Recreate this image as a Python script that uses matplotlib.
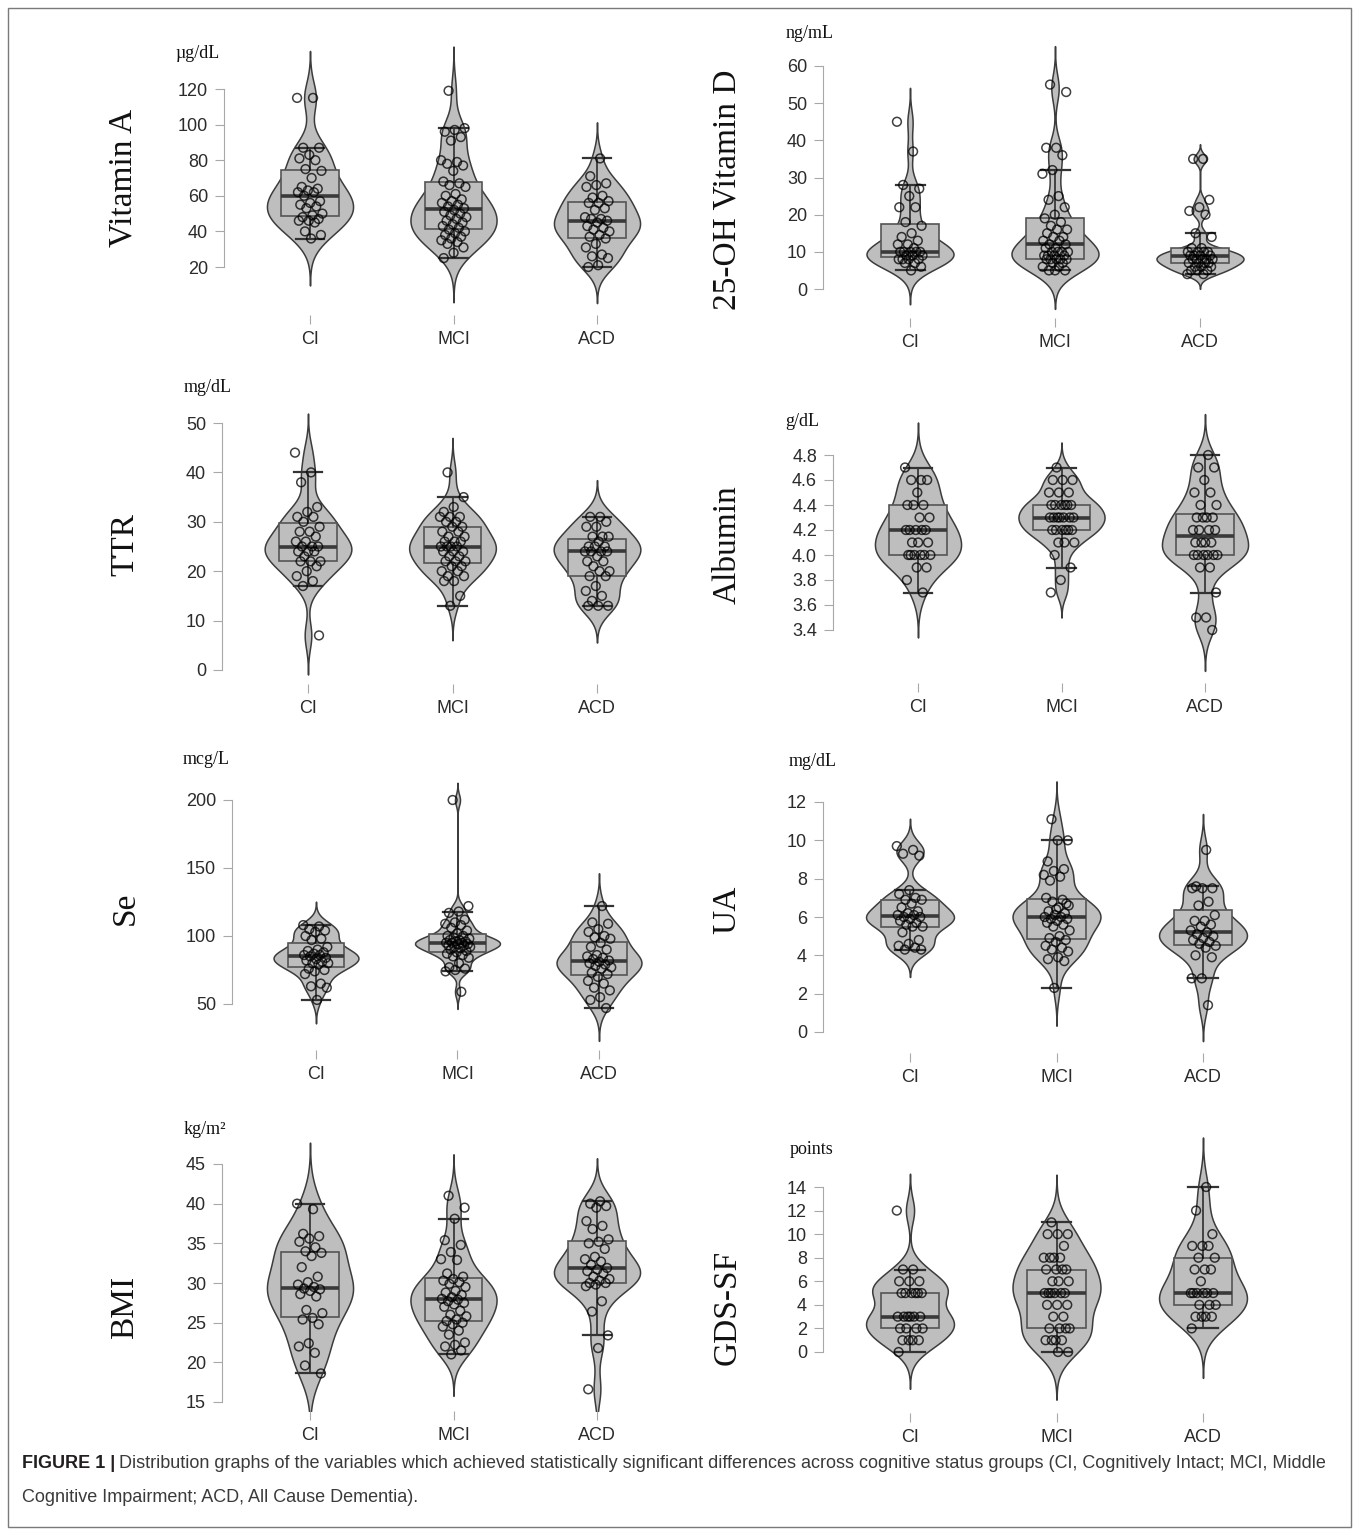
import numpy as np
import matplotlib.pyplot as plt
from matplotlib.patches import Rectangle

plt.rcParams['font.family'] = ['Liberation Sans', 'DejaVu Sans']

W, H = 1357, 1533
groups = ['CI', 'MCI', 'ACD']

# values (one list per group)
vita_ci = [115, 115, 87, 87, 83, 81, 80, 75, 74, 70, 65, 64, 63, 62, 62, 60, 57, 56, 55, 54, 53, 50, 49, 48, 47, 46, 46, 45, 40, 38, 36]
vita_mci = [119, 98, 97, 96, 93, 91, 80, 79, 78, 77, 74, 68, 67, 66, 65, 61, 60, 58, 57, 56, 55, 54, 53, 52, 51, 50,
            49, 48, 47, 46, 45, 44, 43, 42, 41, 40, 39, 38, 37, 36, 35, 34, 33, 31, 28, 25]
vita_acd = [81, 71, 67, 66, 65, 60, 59, 57, 56, 56, 53, 52, 48, 47, 47, 46, 45, 43, 42, 41, 40, 38, 37, 36, 33, 31, 27, 26, 25, 21, 20]

vitd_ci = [45, 37, 28, 27, 25, 22, 22, 18, 17, 15, 14, 13, 12, 12, 11, 10, 10, 10, 10, 10, 9, 9, 9, 8, 8, 8, 8, 7, 7, 6, 5]
vitd_mci = [55, 53, 38, 38, 36, 32, 31, 25, 24, 22, 20, 19, 18, 17, 16, 16, 15, 14, 14, 13, 13, 12, 12, 11, 11,
            10, 10, 10, 10, 9, 9, 9, 9, 8, 8, 8, 8, 8, 7, 7, 6, 6, 5, 5, 5]
vitd_acd = [35, 35, 24, 22, 21, 20, 15, 14, 11, 11, 10, 10, 10, 10, 9, 9, 9, 9, 8, 8, 8, 8, 8, 7, 7, 7, 7, 6, 6, 6, 5, 5, 5, 4, 4]

ttr_ci = [44, 40, 38, 33, 32, 31, 31, 30, 29, 28, 28, 27, 26, 26, 25, 25, 25, 24, 24, 24, 23, 22, 22, 22, 21, 20, 19, 18, 17, 7]
ttr_mci = [40, 35, 33, 32, 31, 31, 31, 30, 30, 29, 29, 28, 28, 27, 27, 26, 26, 26, 25, 25, 25, 25, 24, 24, 24, 23, 23,
           22, 22, 22, 21, 21, 20, 20, 19, 19, 18, 18, 15, 13]
ttr_acd = [31, 31, 30, 29, 29, 27, 27, 27, 26, 25, 25, 25, 24, 24, 24, 24, 23, 22, 22, 21, 20, 20, 19, 19, 17, 16, 15, 14, 13, 13, 13]

alb_ci = [4.7, 4.6, 4.6, 4.6, 4.5, 4.4, 4.4, 4.4, 4.3, 4.3, 4.2, 4.2, 4.2, 4.2, 4.2, 4.1, 4.1, 4.1,
          4.0, 4.0, 4.0, 4.0, 4.0, 4.0, 3.9, 3.9, 3.8, 3.7]
alb_mci = [4.7, 4.6, 4.6, 4.6, 4.5, 4.5, 4.5, 4.4, 4.4, 4.4, 4.4, 4.4, 4.4, 4.3, 4.3, 4.3, 4.3, 4.3, 4.3, 4.3,
           4.2, 4.2, 4.2, 4.2, 4.2, 4.2, 4.1, 4.1, 4.1, 4.0, 3.9, 3.8, 3.7]
alb_acd = [4.8, 4.7, 4.7, 4.6, 4.5, 4.5, 4.4, 4.4, 4.3, 4.3, 4.3, 4.3, 4.2, 4.2, 4.2, 4.2, 4.1, 4.1, 4.1, 4.1,
           4.0, 4.0, 4.0, 4.0, 4.0, 4.0, 3.9, 3.9, 3.7, 3.5, 3.5, 3.4]

se_ci = [108, 107, 105, 104, 103, 100, 98, 97, 92, 90, 89, 88, 87, 86, 86, 85, 84, 83, 82, 81, 80, 80, 79, 76, 75, 74, 72, 65, 63, 62, 53]
se_mci = [200, 122, 118, 117, 112, 110, 109, 108, 106, 104, 102, 100, 100, 99, 98, 97, 97, 96, 96, 95, 95, 95, 94, 94,
          93, 93, 92, 92, 91, 90, 89, 88, 87, 86, 85, 84, 80, 77, 76, 75, 74, 59]
se_acd = [122, 110, 109, 105, 103, 100, 99, 98, 95, 92, 90, 86, 85, 84, 83, 82, 81, 80, 79, 78, 77, 76, 73, 72, 70, 67, 65, 62, 60, 55, 53, 47]

ua_ci = [9.7, 9.5, 9.3, 9.2, 7.4, 7.2, 7.0, 6.9, 6.9, 6.7, 6.5, 6.3, 6.2, 6.1, 6.1, 6.0, 6.0, 5.9, 5.8, 5.7, 5.6,
         5.5, 5.5, 5.2, 4.8, 4.6, 4.5, 4.4, 4.3, 4.3]
ua_mci = [11.1, 10.0, 10.0, 8.9, 8.5, 8.4, 8.2, 8.1, 7.9, 6.7, 6.4, 7.0, 6.9, 6.8, 6.6, 6.5, 6.3, 6.2, 6.1, 6.0, 6.0,
          5.9, 5.9, 5.8, 5.7, 5.6, 5.5, 5.3, 5.0, 4.9, 4.8, 4.7, 4.5, 4.4, 4.3, 4.2, 3.9, 3.8, 3.7, 2.3]
ua_acd = [9.5, 7.6, 7.5, 7.5, 7.5, 6.8, 6.6, 6.1, 5.8, 5.8, 5.6, 5.5, 5.3, 5.2, 5.1, 5.0, 4.9, 4.8, 4.7, 4.6, 4.5,
          4.4, 4.0, 3.9, 2.8, 2.8, 1.4]

bmi_ci = [40.0, 39.3, 36.2, 35.9, 35.6, 35.2, 34.5, 34.0, 33.8, 33.4, 32.0, 30.8, 30.1, 29.8, 29.5, 29.3, 29.2, 29.0,
          28.6, 28.3, 26.6, 26.2, 25.6, 25.4, 24.8, 22.4, 22.0, 21.2, 19.6, 18.6]
bmi_mci = [41.0, 39.5, 38.1, 35.4, 34.8, 33.9, 33.0, 32.9, 31.2, 30.8, 30.5, 30.3, 30.1, 29.9, 29.5, 29.0, 28.8, 28.5,
           28.2, 28.0, 27.9, 27.7, 27.5, 27.3, 27.0, 26.5, 26.0, 25.8, 25.4, 25.2, 25.0, 24.8, 24.5, 24.0, 23.5, 22.5,
           22.2, 22.0, 21.5, 21.0]
bmi_acd = [40.3, 40.0, 39.7, 39.5, 37.8, 37.2, 36.8, 35.5, 35.2, 35.0, 34.3, 33.3, 33.0, 32.7, 32.3, 31.9, 31.7, 31.5,
           31.2, 30.8, 30.5, 30.3, 30.0, 30.0, 29.8, 29.6, 27.7, 26.4, 23.4, 21.8, 16.6]

gds_ci = [12, 7, 7, 6, 6, 6, 5, 5, 5, 5, 5, 5, 3, 3, 3, 3, 3, 3, 2, 2, 2, 2, 1, 1, 1, 1, 0]
gds_mci = [11, 10, 10, 10, 9, 8, 8, 8, 8, 7, 7, 7, 7, 6, 6, 6, 5, 5, 5, 5, 5, 5, 4, 4, 4, 3, 3, 2, 2, 2, 2, 1, 1, 1, 1, 0, 0]
gds_acd = [14, 12, 10, 9, 9, 9, 8, 8, 7, 7, 7, 6, 5, 5, 5, 5, 5, 5, 4, 4, 4, 3, 3, 3, 3, 2]

vita_ticks = [20, 40, 60, 80, 100, 120]
vitd_ticks = [0, 10, 20, 30, 40, 50, 60]
ttr_ticks = [0, 10, 20, 30, 40, 50]
alb_ticks = [3.4, 3.6, 3.8, 4.0, 4.2, 4.4, 4.6, 4.8]
se_ticks = [50, 100, 150, 200]
ua_ticks = [0, 2, 4, 6, 8, 10, 12]
bmi_ticks = [15, 20, 25, 30, 35, 40, 45]
gds_ticks = [0, 2, 4, 6, 8, 10, 12, 14]

# layout in pixels of the reference
panels = [
    dict(data=[vita_ci, vita_mci, vita_acd], name='Vitamin A', unit='µg/dL', ticks=vita_ticks, fmt='{:g}',
         spine=224, gx=(310, 597), hi=(120, 89), lo=(20, 267), bottom=315, top=25, right=680,
         unit_xy=(198, 53), lab_xy=(123, 178)),
    dict(data=[vitd_ci, vitd_mci, vitd_acd], name='25-OH Vitamin D', unit='ng/mL', ticks=vitd_ticks, fmt='{:g}',
         spine=823, gx=(910, 1200), hi=(60, 66), lo=(0, 289), bottom=318, top=12, right=1300,
         unit_xy=(810, 33), lab_xy=(727, 190)),
    dict(data=[ttr_ci, ttr_mci, ttr_acd], name='TTR', unit='mg/dL', ticks=ttr_ticks, fmt='{:g}',
         spine=222, gx=(308, 597), hi=(50, 423), lo=(0, 670), bottom=684, top=395, right=680,
         unit_xy=(208, 387), lab_xy=(125, 545)),
    dict(data=[alb_ci, alb_mci, alb_acd], name='Albumin', unit='g/dL', ticks=alb_ticks, fmt='{:.1f}',
         spine=833, gx=(918, 1205), hi=(4.8, 455), lo=(3.4, 630), bottom=683, top=400, right=1300,
         unit_xy=(802, 421), lab_xy=(727, 545)),
    dict(data=[se_ci, se_mci, se_acd], name='Se', unit='mcg/L', ticks=se_ticks, fmt='{:g}',
         spine=232, gx=(316, 599), hi=(200, 800), lo=(50, 1004), bottom=1050, top=770, right=680,
         unit_xy=(206, 760), lab_xy=(125, 908)),
    dict(data=[ua_ci, ua_mci, ua_acd], name='UA', unit='mg/dL', ticks=ua_ticks, fmt='{:g}',
         spine=823, gx=(910, 1203), hi=(12, 802), lo=(0, 1032), bottom=1053, top=770, right=1300,
         unit_xy=(813, 761), lab_xy=(727, 910)),
    dict(data=[bmi_ci, bmi_mci, bmi_acd], name='BMI', unit='kg/m²', ticks=bmi_ticks, fmt='{:g}',
         spine=222, gx=(310, 597), hi=(45, 1164), lo=(15, 1402), bottom=1411, top=1135, right=680,
         unit_xy=(205, 1130), lab_xy=(125, 1307)),
    dict(data=[gds_ci, gds_mci, gds_acd], name='GDS-SF', unit='points', ticks=gds_ticks, fmt='{:g}',
         spine=823, gx=(910, 1203), hi=(14, 1187), lo=(0, 1352), bottom=1413, top=1130, right=1300,
         unit_xy=(812, 1150), lab_xy=(727, 1307)),
]

FILL = '#bebebe'
DARK = '#3c3c3c'
AXC = '#a8a8a8'


def kde_stats(vals):
    x = np.asarray(vals, float)
    n = len(x)
    q75, q25 = np.percentile(x, [75, 25])
    bw = 0.9 * min(x.std(ddof=1), (q75 - q25) / 1.34) * n ** -0.2
    grid = np.linspace(x.min() - 3 * bw, x.max() + 3 * bw, 512)
    dens = np.exp(-0.5 * ((grid[:, None] - x[None, :]) / bw) ** 2).sum(1) / (n * bw * np.sqrt(2 * np.pi))
    return dict(coords=grid, vals=dens, mean=x.mean(), median=np.median(x), min=grid[0], max=grid[-1])


fig = plt.figure(figsize=(W / 100, H / 100), dpi=100)

for p in panels:
    left, right, top, bottom = p['spine'], p['right'], p['top'], p['bottom']
    ax = fig.add_axes([left / W, 1 - bottom / H, (right - left) / W, (bottom - top) / H])
    ax.patch.set_visible(False)

    g0, g2 = p['gx']
    sx = (g2 - g0) / 2.0
    ax.set_xlim(1 + (left - g0) / sx, 3 + (right - g2) / sx)
    (vhi, yhi), (vlo, ylo) = p['hi'], p['lo']
    sy = (ylo - yhi) / (vhi - vlo)
    ax.set_ylim(vlo - (bottom - ylo) / sy, vhi + (yhi - top) / sy)

    pos = [1, 2, 3]
    vp = ax.violin([kde_stats(d) for d in p['data']], positions=pos, widths=0.6,
                   showmeans=False, showextrema=False, showmedians=False)
    for body in vp['bodies']:
        body.set_facecolor(FILL)
        body.set_edgecolor(DARK)
        body.set_linewidth(1.1)
        body.set_alpha(1)
        body.set_zorder(1)

    ax.boxplot(p['data'], positions=pos, widths=0.4, capwidths=0.2, whis=1.51, showfliers=False,
               patch_artist=True, manage_ticks=False, zorder=2,
               boxprops=dict(facecolor=FILL, edgecolor='#555555', linewidth=1.2),
               medianprops=dict(color='#3a3a3a', linewidth=2.6),
               whiskerprops=dict(color='#3a3a3a', linewidth=1.3),
               capprops=dict(color='#333333', linewidth=1.6))

    for i, d in enumerate(p['data']):
        k = np.arange(len(d))
        jit = ((k * 0.6180339887 + 0.31 * i) % 1 - 0.5) * 0.18
        ax.scatter(pos[i] + jit, d, s=40, facecolors='none', edgecolors=(0, 0, 0, 0.75),
                   linewidths=1.1, zorder=4)

    for s in ['top', 'right', 'bottom']:
        ax.spines[s].set_visible(False)
    ax.spines['left'].set_color(AXC)
    ax.spines['left'].set_bounds(p['ticks'][0], p['ticks'][-1])
    ax.set_yticks(p['ticks'], [p['fmt'].format(t) for t in p['ticks']])
    ax.set_xticks(pos, groups)
    ax.tick_params(axis='y', length=6.5, color=AXC, labelsize=13, labelcolor='#2b2b2b', pad=5)
    ax.tick_params(axis='x', length=6.5, color=AXC, labelsize=13, labelcolor='#2b2b2b', pad=5)

    ux, uy = p['unit_xy']
    fig.text(ux / W, 1 - uy / H, p['unit'], family='Liberation Serif', fontsize=13,
             ha='center', va='center', color='#111111')
    lx, ly = p['lab_xy']
    fig.text(lx / W, 1 - ly / H, p['name'], family='Liberation Serif', fontsize=24,
             rotation=90, ha='center', va='center', color='#111111')

# caption
cap_y1 = 1 - 1463 / H
cap_y2 = 1 - 1497 / H
t1 = fig.text(22 / W, cap_y1, 'FIGURE 1 |', fontsize=13, fontweight='bold', ha='left', va='center', color='#231f20')
fig.canvas.draw()
bb = t1.get_window_extent()
fig.text((bb.x1 + 4) / W, cap_y1,
         'Distribution graphs of the variables which achieved statistically significant differences across '
         'cognitive status groups (CI, Cognitively Intact; MCI, Middle',
         fontsize=13, ha='left', va='center', color='#3a3a3a')
fig.text(22 / W, cap_y2, 'Cognitive Impairment; ACD, All Cause Dementia).',
         fontsize=13, ha='left', va='center', color='#3a3a3a')

fig.patches.append(Rectangle((8 / W, 1 - 1527 / H), (1351 - 8) / W, (1527 - 8) / H,
                             transform=fig.transFigure, fill=False, edgecolor='#7a7a7a', linewidth=1))

fig.savefig('out.png', dpi=100)
